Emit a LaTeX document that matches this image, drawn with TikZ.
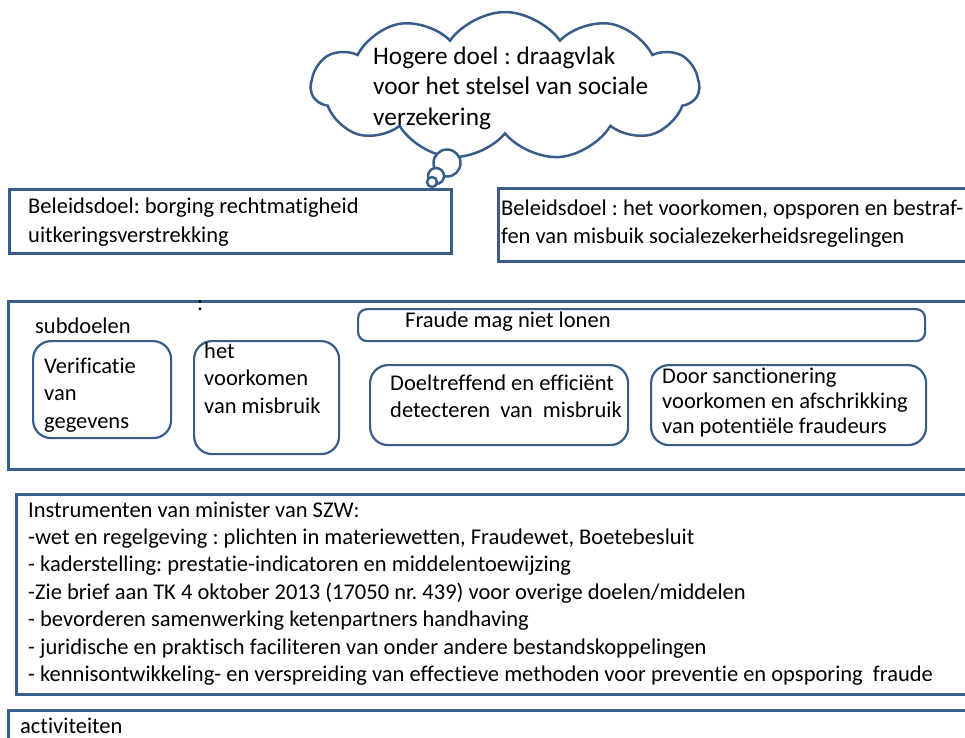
\documentclass[tikz,border=0pt]{standalone}
\usepackage{fontspec}
\setmainfont{Carlito}[Ligatures={NoCommon}]
\usetikzlibrary{shapes.symbols}
\definecolor{pblue}{HTML}{385D8A}
\frenchspacing
\begin{document}
\begin{tikzpicture}[x=1pt,y=-1pt,
  frame/.style={draw=pblue,line width=3pt,anchor=north west,inner sep=0pt},
  rbox/.style={draw=pblue,line width=2.2pt,rounded corners=18pt,anchor=north west,inner sep=0pt},
  txt/.style={anchor=base west,inner sep=0pt,align=left,text=black,font=\fontsize{22.5}{27.4}\selectfont},
  bigtxt/.style={txt,font=\fontsize{25.3}{30.5}\selectfont},
  bubble/.style={circle,draw=pblue,line width=2.5pt,inner sep=0pt,fill=white},
]
\useasboundingbox (0,0) rectangle (965,737);
\clip (0,0) rectangle (965,737);
% cloud
\node[cloud,draw=pblue,line width=2.5pt,cloud puffs=11,cloud puff arc=110,cloud ignores aspect,
      minimum width=388pt,minimum height=148pt,inner sep=0pt,fill=white] (cloud) at (505,86) {};
\node[bubble,minimum size=27pt] (c1) at (447,163) {};
\node[bubble,minimum size=16pt] (c2) at (436,176) {};
\node[bubble,minimum size=10pt] (c3) at (432,182) {};
\node[bigtxt] (ct) at (373,125) {Hogere doel : draagvlak\\voor het stelsel van sociale\\verzekering};
% beleidsdoelen
\node[frame,minimum width=442pt,minimum height=64pt,fill=white] (b1) at (8,188) {};
\node[txt,font=\fontsize{22.5}{28.5}\selectfont] (b1t) at (28,242) {Beleidsdoel: borging rechtmatigheid\\uitkeringsverstrekking};
\node[frame,minimum width=480pt,minimum height=73pt] (b2) at (497,187) {};
\node[txt,font=\fontsize{22.5}{28}\selectfont] (b2t) at (501,243) {Beleidsdoel : het voorkomen, opsporen en bestraf-\\fen van misbuik socialezekerheidsregelingen};
% subdoelen
\node[frame,minimum width=980pt,minimum height=168pt] (sd) at (7,300) {};
\node[txt] (colon) at (197,310) {:};
\node[txt] (sdt) at (35,333) {subdoelen};
\node[rbox,minimum width=138pt,minimum height=97pt] (v) at (32,340) {};
\node[txt,font=\fontsize{22.5}{27.5}\selectfont] (vt) at (44,428) {Verificatie\\van\\gegevens};
\node[rbox,minimum width=145pt,minimum height=113pt] (h) at (193,340) {};
\node[txt,font=\fontsize{22.5}{27.5}\selectfont] (ht) at (204,413) {het\\voorkomen\\van misbruik};
\node[rbox,rounded corners=9pt,minimum width=567pt,minimum height=32pt] (f) at (357,308) {};
\node[txt] (ft) at (405,327) {Fraude mag niet lonen};
\node[rbox,minimum width=258pt,minimum height=80pt] (d) at (369,364) {};
\node[txt,font=\fontsize{22.5}{27}\selectfont] (dt) at (390,417) {Doeltreffend en efficiënt\\detecteren\ \ van\ \ misbruik};
\node[rbox,minimum width=275pt,minimum height=80pt] (s) at (650,364) {};
\node[txt,font=\fontsize{22.5}{25}\selectfont] (st) at (662,433) {Door sanctionering\\voorkomen en afschrikking\\van potentiële fraudeurs};
% instrumenten
\node[frame,minimum width=970pt,minimum height=200pt] (in) at (15,493) {};
\node[txt] (int) at (28,681.5) {Instrumenten van minister van SZW:\\
-wet en regelgeving : plichten in materiewetten, Fraudewet, Boetebesluit\\
- kaderstelling: prestatie-indicatoren en middelentoewijzing\\
-Zie brief aan TK 4 oktober 2013 (17050 nr. 439) voor overige doelen/middelen\\
- bevorderen samenwerking ketenpartners handhaving\\
- juridische en praktisch faciliteren van onder andere bestandskoppelingen\\
- kennisontwikkeling- en verspreiding van effectieve methoden voor preventie en opsporing\ \ fraude};
% activiteiten
\node[frame,minimum width=980pt,minimum height=60pt] (ac) at (7,709) {};
\node[txt] (act) at (20,733) {activiteiten};
\end{tikzpicture}
\end{document}
